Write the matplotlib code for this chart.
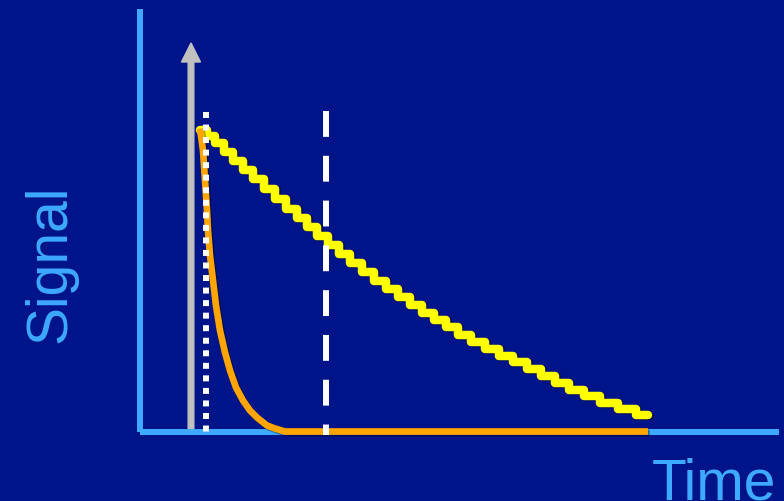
import matplotlib
matplotlib.use("Agg")
import matplotlib.pyplot as plt
import matplotlib.patheffects as pe
from matplotlib.patches import FancyArrow

# ---- data (arbitrary units: time vs signal) ----
slow_t = [60, 67, 75, 84, 93, 103, 113, 124, 135, 146, 157, 167, 177, 188, 199,
          210, 222, 234, 246, 258, 270, 282, 294, 306, 318, 331, 345, 359, 373,
          387, 401, 415, 429, 444, 460, 478, 496, 508]
slow_s = [302, 296, 289, 280, 271, 262, 253, 243, 233, 223, 214, 205, 196, 187,
          178, 169, 160, 151, 143, 135, 127, 119, 112, 105, 97, 90, 83, 76, 70,
          63, 56, 49, 42, 36, 29, 23, 17, 17]

fast_t = [60, 63, 65, 67, 68, 70, 73, 76, 80, 85, 90, 96, 103, 110, 117, 127,
          135, 145, 508]
fast_s = [303, 281, 251, 221, 201, 176, 151, 126, 101, 79, 61, 44, 31, 21, 14,
          6, 3, 0, 0]

pulse_t = 51
pulse_top = 388.5
dotted_t = 66
dashed_t = 186
marker_top = 320
x_max = 639.3
y_max = 422.2

BG = "#001489"
LIGHT = "#3DA9FF"
YELLOW = "#FFFF00"
ORANGE = "#FFA500"
GRAY = "#C0C0C0"

W, H = 784, 501
fig = plt.figure(figsize=(W / 100, H / 100), dpi=100)
fig.patch.set_facecolor(BG)

ax = fig.add_axes([140 / W, (H - 431.5) / H, (779.3 - 140) / W, (431.5 - 9.3) / H])
ax.set_facecolor(BG)
ax.set_xlim(0, x_max)
ax.set_ylim(0, y_max)
ax.set_xticks([])
ax.set_yticks([])
for side in ("top", "right"):
    ax.spines[side].set_visible(False)
for side in ("left", "bottom"):
    ax.spines[side].set_color(LIGHT)
    ax.spines[side].set_linewidth(4.3)
    ax.spines[side].set_capstyle("butt")

shadow = [pe.SimpleLineShadow(offset=(1.2, -1.2), shadow_color="black", alpha=0.35), pe.Normal()]

# pulse arrow
arr = FancyArrow(pulse_t, 0, 0, pulse_top, width=5.7, head_width=19, head_length=19,
                 length_includes_head=True, color=GRAY, clip_on=False, zorder=2)
ax.add_patch(arr)

# slow decay (yellow staircase)
ax.plot(slow_t, slow_s, drawstyle="steps-post", color=YELLOW, lw=6.1,
        solid_capstyle="round", solid_joinstyle="round", clip_on=False,
        path_effects=shadow, zorder=3)

# fast decay (orange)
ax.plot(fast_t, fast_s, color=ORANGE, lw=4.8, solid_capstyle="butt",
        solid_joinstyle="round", clip_on=False, path_effects=shadow, zorder=4)

# white marker lines
ax.plot([dotted_t, dotted_t], [marker_top - 0.5, -3.5], color="white", lw=4.3,
        linestyle=(0, (1, 1.1)), dash_capstyle="butt", clip_on=False, zorder=5)
ax.plot([dashed_t, dashed_t], [marker_top + 0.5, -3.5], color="white", lw=4.3,
        linestyle=(0, (4.33, 3.17)), dash_capstyle="butt", clip_on=False, zorder=5)

fig.text(50.5 / W, (H - 264) / H, "Signal", rotation=90, ha="center", va="center",
         color=LIGHT, fontsize=41, family=["Liberation Sans", "DejaVu Sans"])
fig.text(651.4 / W, (H - 499.5) / H, "Time", ha="left", va="baseline",
         color=LIGHT, fontsize=41, family=["Liberation Sans", "DejaVu Sans"])

fig.savefig("out.png", dpi=100, facecolor=BG)
